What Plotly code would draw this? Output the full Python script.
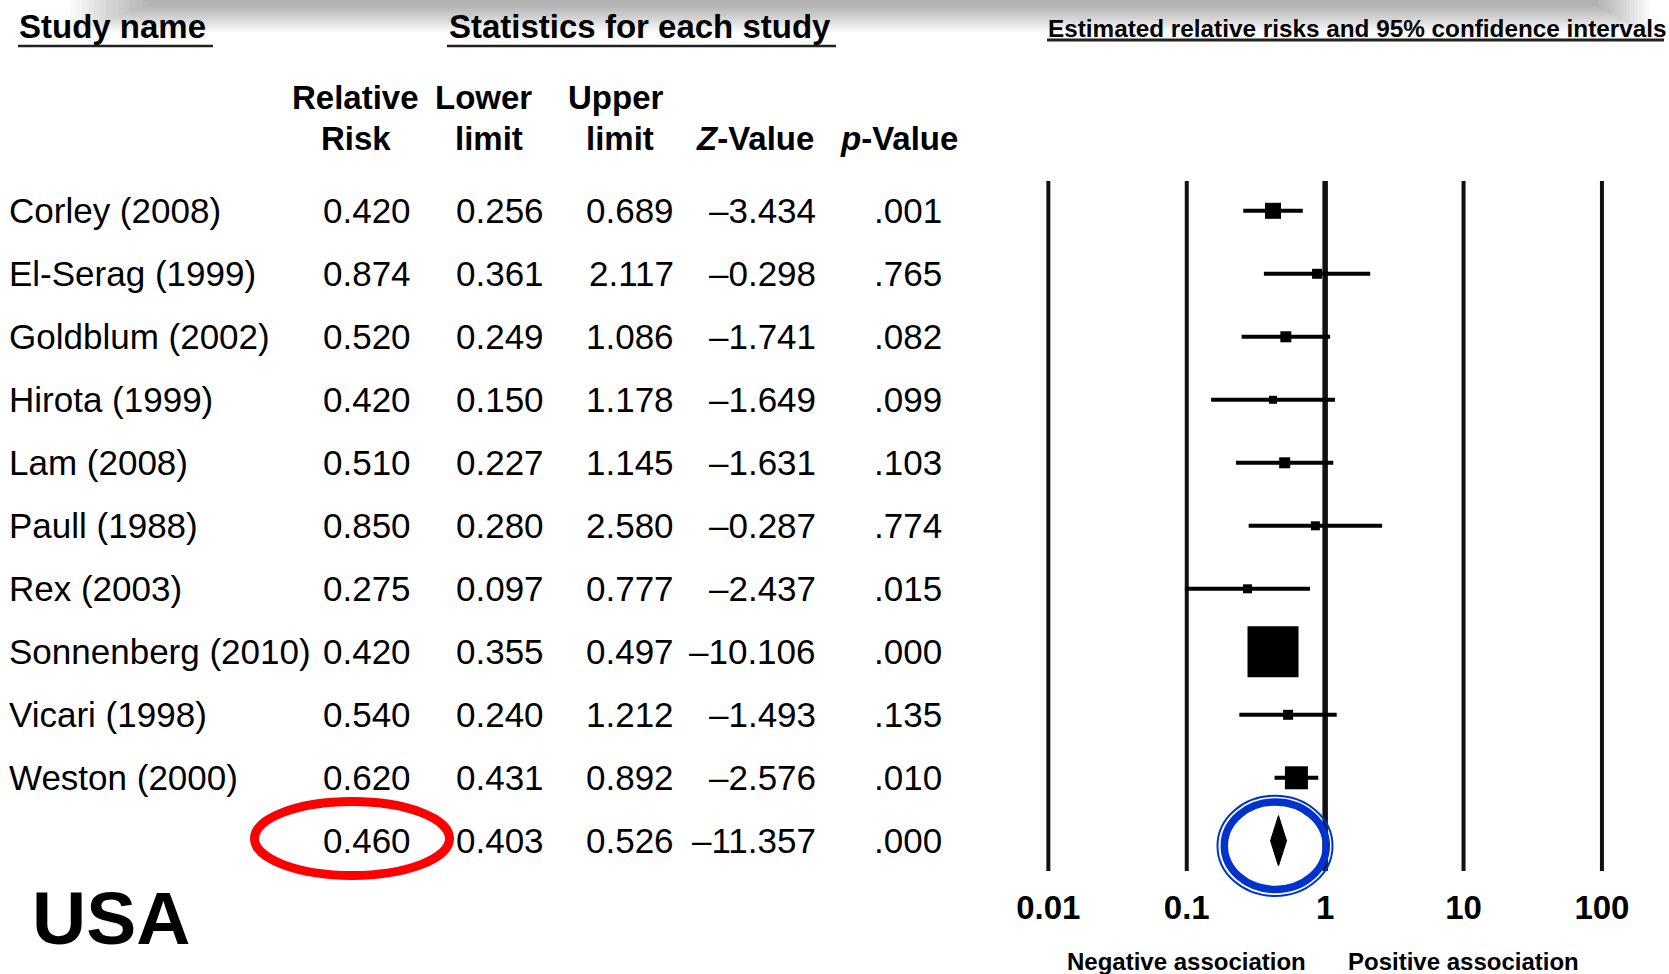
import glob
import plotly.graph_objects as go

# ---------------- data ----------------
studies = ["Corley (2008)", "El-Serag (1999)", "Goldblum (2002)", "Hirota (1999)",
           "Lam (2008)", "Paull (1988)", "Rex (2003)", "Sonnenberg (2010)",
           "Vicari (1998)", "Weston (2000)"]
rel_risk = [0.420, 0.874, 0.520, 0.420, 0.510, 0.850, 0.275, 0.420, 0.540, 0.620]
lower_lim = [0.256, 0.361, 0.249, 0.150, 0.227, 0.280, 0.097, 0.355, 0.240, 0.431]
upper_lim = [0.689, 2.117, 1.086, 1.178, 1.145, 2.580, 0.777, 0.497, 1.212, 0.892]
z_values = [-3.434, -0.298, -1.741, -1.649, -1.631, -0.287, -2.437, -10.106, -1.493, -2.576]
p_values = [0.001, 0.765, 0.082, 0.099, 0.103, 0.774, 0.015, 0.000, 0.135, 0.010]
box_px = [16, 10, 11, 8, 11, 9, 9, 51, 10, 23]   # study weight boxes (pixels)

pooled_rr = 0.460
pooled_lower = 0.403
pooled_upper = 0.526
pooled_z = -11.357
pooled_p = 0.000

tick_vals = [0.01, 0.1, 1, 10, 100]
tick_text = ["0.01", "0.1", "1", "10", "100"]

# ---------------- helpers ----------------
W, H = 1669, 974
def px(x):
    return x / W
def py(y):
    return 1 - y / H

narrow = bool(glob.glob('/usr/share/fonts/**/LiberationSansNarrow*', recursive=True))
HEAD_FAMILY = "Liberation Sans Narrow" if narrow else "Liberation Sans"
HEAD_SIZE = 40 if narrow else 33
BODY = "Liberation Sans"
BODY_SIZE = 35

rows = list(range(len(studies)))
pooled_row = len(studies)

fig = go.Figure()

# study estimates with CIs
fig.add_trace(go.Scatter(
    x=rel_risk, y=rows, mode="markers",
    marker=dict(symbol="square", size=box_px, color="black", opacity=1,
                line=dict(width=0)),
    error_x=dict(type="data", symmetric=False,
                 array=[u - r for u, r in zip(upper_lim, rel_risk)],
                 arrayminus=[r - l for r, l in zip(rel_risk, lower_lim)],
                 thickness=4, width=0, color="black"),
    hoverinfo="skip"))

# pooled diamond
h = 0.4
fig.add_trace(go.Scatter(
    x=[pooled_lower, pooled_rr, pooled_upper, pooled_rr, pooled_lower],
    y=[pooled_row, pooled_row - h, pooled_row, pooled_row + h, pooled_row],
    mode="lines", fill="toself", fillcolor="black",
    line=dict(color="black", width=1), hoverinfo="skip"))

shapes = []
# top shadow
n = 14
for i in range(n):
    shapes.append(dict(type="rect", xref="paper", yref="paper",
                       x0=px(70 + 6 * i), x1=px(1650 - 4 * i),
                       y0=py(32 - 2 * i), y1=py(0),
                       fillcolor="rgba(0,0,0,0.024)", line=dict(width=0),
                       layer="below"))
# vertical reference lines
for v in tick_vals:
    shapes.append(dict(type="line", xref="x", yref="y", x0=v, x1=v,
                       y0=-0.473, y1=10.48,
                       line=dict(color="#111", width=5.5 if v == 1 else 4),
                       layer="below"))
# header underlines
shapes.append(dict(type="line", xref="paper", yref="paper",
                   x0=px(18), x1=px(213), y0=py(46), y1=py(46),
                   line=dict(color="#222", width=2.5)))
shapes.append(dict(type="line", xref="paper", yref="paper",
                   x0=px(447), x1=px(836), y0=py(46), y1=py(46),
                   line=dict(color="#222", width=2.5)))
shapes.append(dict(type="line", xref="paper", yref="paper",
                   x0=px(1047), x1=px(1664), y0=py(40), y1=py(40),
                   line=dict(color="#222", width=3)))
# red ellipse around pooled RR
shapes.append(dict(type="circle", xref="paper", yref="paper",
                   x0=px(254.5), x1=px(449.5), y0=py(801.5), y1=py(875.5),
                   line=dict(color="#ff0000", width=9), layer="above"))
# blue double ring around pooled diamond
shapes.append(dict(type="circle", xref="paper", yref="paper",
                   x0=px(1224.3), x1=px(1326.3), y0=py(802), y1=py(889.5),
                   line=dict(color="#0033cc", width=7.5), layer="above"))
shapes.append(dict(type="circle", xref="paper", yref="paper",
                   x0=px(1217.5), x1=px(1332.5), y0=py(795.8), y1=py(896),
                   line=dict(color="#0033cc", width=2), layer="above"))

ann = []
def text(x, y, t, size, family=BODY, bold=False, italic=False, xanchor="center",
         yref="paper", color="black"):
    ann.append(dict(x=px(x), y=(py(y) if yref == "paper" else y), xref="paper",
                    yref=yref, text=t, showarrow=False, xanchor=xanchor,
                    yanchor="middle",
                    font=dict(family=family, size=size, color=color,
                              weight="bold" if bold else "normal",
                              style="italic" if italic else "normal")))

# headers
text(112, 27, "Study name", HEAD_SIZE, HEAD_FAMILY, bold=True)
text(640, 27, "Statistics for each study", HEAD_SIZE, HEAD_FAMILY, bold=True)
text(1046, 29, "Estimated relative risks and 95% confidence intervals", 24.3,
     BODY, bold=True, xanchor="left")
text(355, 97, "Relative", HEAD_SIZE, HEAD_FAMILY, bold=True)
text(483.5, 97, "Lower", HEAD_SIZE, HEAD_FAMILY, bold=True)
text(615.5, 97, "Upper", HEAD_SIZE, HEAD_FAMILY, bold=True)
text(355.5, 138, "Risk", HEAD_SIZE, HEAD_FAMILY, bold=True)
text(488.5, 138, "limit", HEAD_SIZE, HEAD_FAMILY, bold=True)
text(619.5, 138, "limit", HEAD_SIZE, HEAD_FAMILY, bold=True)
text(754.5, 138, "<i>Z</i>-Value", HEAD_SIZE, HEAD_FAMILY, bold=True)
text(898.5, 138, "<i>p</i>-Value", HEAD_SIZE, HEAD_FAMILY, bold=True)

def fz(z):
    return f"{z:.3f}".replace("-", "\u2013")
def fp(p):
    return f"{p:.3f}"[1:]

col_right = [413, 546, 676, 818, 944]
for i, name in enumerate(studies):
    text(6.5, rows[i], name, BODY_SIZE, xanchor="left", yref="y")
    vals = [f"{rel_risk[i]:.3f}", f"{lower_lim[i]:.3f}", f"{upper_lim[i]:.3f}",
            fz(z_values[i]), fp(p_values[i])]
    for xr, v in zip(col_right, vals):
        text(xr, rows[i], v, BODY_SIZE, xanchor="right", yref="y")
pvals = [f"{pooled_rr:.3f}", f"{pooled_lower:.3f}", f"{pooled_upper:.3f}",
         fz(pooled_z), fp(pooled_p)]
for xr, v in zip(col_right, pvals):
    text(xr, pooled_row, v, BODY_SIZE, xanchor="right", yref="y")

text(30, 918, "USA", 75, BODY, bold=True, xanchor="left")

# association labels under axis (annotation x on log axis is log10)
for lx, lab in [(-1, "Negative association"), (1, "Positive association")]:
    ann.append(dict(x=lx, xref="x", y=py(961), yref="paper", text=lab,
                    showarrow=False, xanchor="center", yanchor="middle",
                    font=dict(family=BODY, size=24, color="black", weight="bold")))

L = 325
fig.update_layout(
    width=W, height=H, margin=dict(l=0, r=0, t=0, b=0),
    paper_bgcolor="white", plot_bgcolor="white", showlegend=False,
    shapes=shapes, annotations=ann,
    xaxis=dict(type="log", range=[-L / 138.4, L / 138.4],
               domain=[px(1325.15 - L), px(1325.15 + L)],
               tickvals=tick_vals, ticktext=tick_text,
               tickfont=dict(family=BODY, size=33, color="black", weight="bold"),
               showgrid=False, zeroline=False, showline=False, ticks="",
               ticklabelstandoff=10, fixedrange=True),
    yaxis=dict(range=[(875 - 210.8) / 63, -210.8 / 63], domain=[py(875), 1],
               visible=False, fixedrange=True),
)

fig.write_html("out.html", config={"displayModeBar": False},
               post_script="document.body.style.margin='0';"
                           "document.body.style.overflow='hidden';")
